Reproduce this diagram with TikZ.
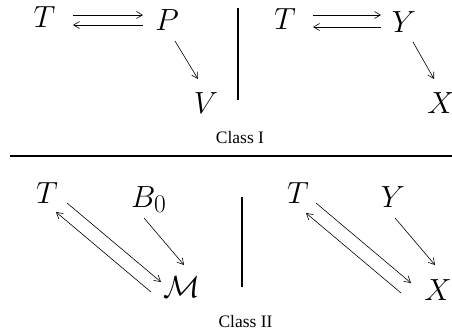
\documentclass[tikz,border=0pt]{standalone}
\usepackage{fontspec}
\setmainfont{Liberation Serif}
\usetikzlibrary{arrows.meta}
\begin{document}
\begin{tikzpicture}[x=1pt,y=-1pt,
  var/.style={inner sep=0pt,anchor=base,scale=1.23,font=\fontsize{24.88}{28}\selectfont},
  lbl/.style={inner sep=0pt,anchor=base,font=\fontsize{17.5}{20}\selectfont},
  arr/.style={line width=0.6pt,-{Straight Barb[length=6pt,width=7pt]}},
  sep/.style={line width=1.2pt}]
\useasboundingbox (0,0) rectangle (452,335);
% Class I, left
\node[var] (T1) at (44.5,27) {$T$};
\node[var] (P) at (167,30) {$P$};
\node[var] (V) at (206,113) {$V$};
\draw[arr] ([shift={(28.5,-12)}]T1.base) -- ([shift={(-24,-15)}]P.base);
\draw[arr] ([shift={(-24,-5)}]P.base) -- ([shift={(28.5,-2)}]T1.base);
\draw[arr] ([shift={(8,11)}]P.base) -- ([shift={(-8,-34)}]V.base);
% Class I, right
\node[var] (T2) at (285,29) {$T$};
\node[var] (Y) at (404,32) {$Y$};
\node[var] (X) at (441,113) {$X$};
\draw[arr] ([shift={(28,-14)}]T2.base) -- ([shift={(-23,-17)}]Y.base);
\draw[arr] ([shift={(-23,-5)}]Y.base) -- ([shift={(28,-2)}]T2.base);
\draw[arr] ([shift={(9,10)}]Y.base) -- ([shift={(-7,-34)}]X.base);
\draw[sep] (238,8) -- (238,100);
\node[lbl] (c1) at (240,143) {Class I};
\draw[sep] (10,156) -- (452,156);
% Class II, left
\node[var] (T3) at (47,203) {$T$};
\node[var,anchor=base west] (B) at (131,207) {$B_0$};
\node[var] (M) at (182,297) {$\mathcal{M}$};
\draw[arr] ([shift={(20,0)}]T3.base) -- ([shift={(-21,-15)}]M.base);
\draw[arr] ([shift={(-31,-5)}]M.base) -- ([shift={(9,9)}]T3.base);
\draw[arr] ([shift={(13,11)}]B.base west) -- ([shift={(2,-32)}]M.base);
% Class II, right
\node[var] (T4) at (298,203) {$T$};
\node[var] (Y2) at (393,207) {$Y$};
\node[var] (X2) at (438,300) {$X$};
\draw[arr] ([shift={(18,0)}]T4.base) -- ([shift={(-27,-17)}]X2.base);
\draw[arr] ([shift={(-37,-7)}]X2.base) -- ([shift={(8,10)}]T4.base);
\draw[arr] ([shift={(2,11)}]Y2.base) -- ([shift={(-3,-35)}]X2.base);
\draw[sep] (242,197) -- (242,287);
\node[lbl] (c2) at (245.5,327) {Class II};
\end{tikzpicture}
\end{document}
